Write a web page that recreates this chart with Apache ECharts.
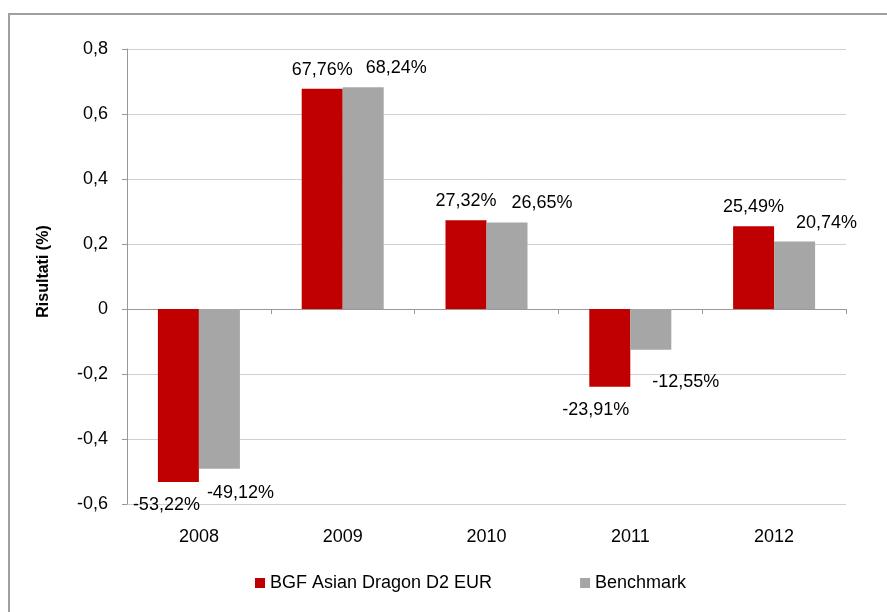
<!DOCTYPE html>
<html lang="it">
<head>
  <meta charset="UTF-8">
  <title>BGF Asian Dragon D2 EUR vs Benchmark</title>
  <script src="https://cdn.jsdelivr.net/npm/echarts@6.0.0/dist/echarts.min.js"></script>
  <style>
    html, body { margin: 0; padding: 0; background: #fff; }
    #chart { width: 887px; height: 612px; }
  </style>
</head>
<body>
  <div id="chart"></div>
  <script>
    // years on the x axis
    const years = ['2008', '2009', '2010', '2011', '2012'];
    // yearly results (fractions, shown as %)
    const fundValues = [-0.5322, 0.6776, 0.2732, -0.2391, 0.2549];
    const benchValues = [-0.4912, 0.6824, 0.2665, -0.1255, 0.2074];
    const seriesNames = ['BGF Asian Dragon D2 EUR', 'Benchmark'];

    // label nudges (Excel pushed overlapping labels aside)
    const fundLabelShift = [[-12, 0], [0, 0], [0, 0], [-14, 0], [0, 0]];
    const benchLabelShift = [[21, 1], [33, 0], [35, 0], [35, 9], [32, 0]];

    const FONT = 'Liberation Sans, Arial, sans-serif';

    function pct(v) {
      return (v * 100).toFixed(2).replace('.', ',') + '%';
    }

    function buildData(values, shifts) {
      return values.map((v, i) => ({
        value: v,
        label: {
          position: v < 0 ? 'bottom' : 'top',
          distance: v < 0 ? 14 : 10,
          offset: shifts[i]
        }
      }));
    }

    const chart = echarts.init(document.getElementById('chart'));

    const option = {
      animation: false,
      backgroundColor: '#fff',
      textStyle: { fontFamily: FONT, color: '#000' },
      graphic: [{
        type: 'rect',
        shape: { x: 9, y: 14, width: 1000, height: 1000 },
        style: { fill: 'none', stroke: '#a0a0a0', lineWidth: 2 },
        silent: true
      }],
      grid: { left: 127, right: 41, top: 49, bottom: 108, containLabel: false },
      legend: {
        data: seriesNames,
        left: 250,
        top: 569,
        icon: 'rect',
        itemWidth: 10,
        itemHeight: 10,
        itemGap: 88,
        textStyle: { fontFamily: FONT, fontSize: 18, color: '#000' }
      },
      xAxis: [
        {
          type: 'category',
          data: years,
          axisLine: { onZero: true, lineStyle: { color: '#999', width: 1 } },
          axisTick: { show: true, length: 5, lineStyle: { color: '#999' } },
          axisLabel: { show: false },
          splitLine: { show: false }
        },
        {
          type: 'category',
          data: years,
          position: 'bottom',
          axisLine: { show: false, onZero: false },
          axisTick: { show: false },
          axisLabel: { show: true, margin: 24, fontFamily: FONT, fontSize: 18, color: '#000' },
          splitLine: { show: false }
        }
      ],
      yAxis: {
        type: 'value',
        min: -0.6,
        max: 0.8,
        interval: 0.2,
        name: 'Risultati (%)',
        nameLocation: 'middle',
        nameRotate: 90,
        nameGap: 75,
        nameTextStyle: { fontFamily: FONT, fontSize: 16, fontWeight: 'bold', color: '#000', padding: [0, 0, 0, 10] },
        axisLine: { show: true, lineStyle: { color: '#999' } },
        axisTick: { show: true, length: 5, lineStyle: { color: '#999' } },
        axisLabel: {
          margin: 19,
          fontFamily: FONT,
          fontSize: 18,
          color: '#000',
          formatter: function (v) {
            if (Math.abs(v) < 1e-9) return '0';
            return v.toFixed(1).replace('.', ',');
          }
        },
        splitLine: { show: true, lineStyle: { color: '#d0d0d0' } }
      },
      series: [
        {
          name: seriesNames[0],
          type: 'bar',
          xAxisIndex: 0,
          barWidth: 41,
          barGap: '0%',
          itemStyle: { color: '#c00000' },
          label: {
            show: true,
            fontFamily: FONT,
            fontSize: 18,
            color: '#000',
            formatter: p => pct(p.value)
          },
          data: buildData(fundValues, fundLabelShift)
        },
        {
          name: seriesNames[1],
          type: 'bar',
          xAxisIndex: 0,
          barWidth: 41,
          barGap: '0%',
          itemStyle: { color: '#a6a6a6' },
          label: {
            show: true,
            fontFamily: FONT,
            fontSize: 18,
            color: '#000',
            formatter: p => pct(p.value)
          },
          data: buildData(benchValues, benchLabelShift)
        }
      ]
    };

    chart.setOption(option);
  </script>
</body>
</html>
